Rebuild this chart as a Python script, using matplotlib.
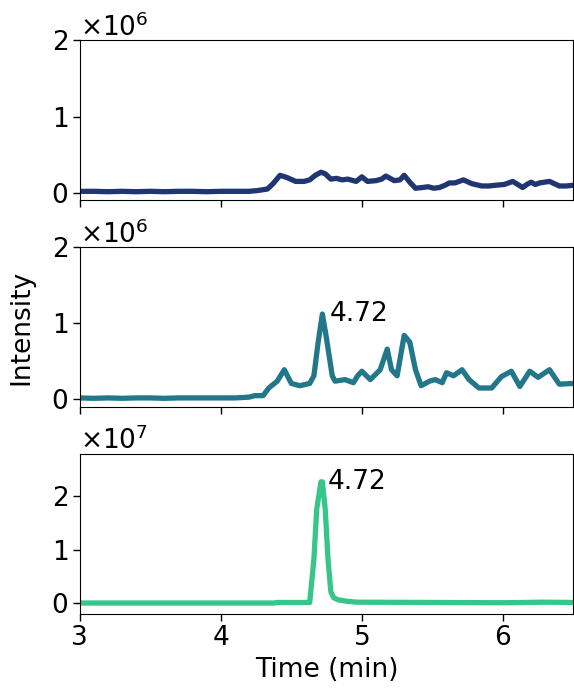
import numpy as np
import matplotlib
matplotlib.use('Agg')
import matplotlib.pyplot as plt

# Extracted ion chromatograms, three channels (time in min, intensity in counts)
t_top = [3.00, 3.10, 3.20, 3.30, 3.40, 3.50, 3.60, 3.70, 3.80, 3.90, 4.00, 4.10,
         4.20, 4.26, 4.33, 4.37, 4.42, 4.47, 4.53, 4.59, 4.63, 4.67, 4.71, 4.74,
         4.78, 4.82, 4.86, 4.90, 4.96, 5.00, 5.04, 5.10, 5.14, 5.17, 5.20, 5.23,
         5.27, 5.30, 5.34, 5.38, 5.43, 5.47, 5.51, 5.55, 5.59, 5.62, 5.66, 5.72,
         5.78, 5.85, 5.90, 5.95, 6.01, 6.07, 6.14, 6.17, 6.20, 6.23, 6.26, 6.33,
         6.40, 6.45, 6.50]
i_top = [0.02, 0.02, 0.015, 0.02, 0.015, 0.02, 0.015, 0.02, 0.02, 0.015, 0.02, 0.02,
         0.02, 0.03, 0.05, 0.12, 0.23, 0.20, 0.15, 0.15, 0.17, 0.23, 0.27, 0.25,
         0.18, 0.19, 0.17, 0.18, 0.15, 0.21, 0.15, 0.16, 0.18, 0.22, 0.19, 0.16,
         0.17, 0.23, 0.14, 0.06, 0.07, 0.08, 0.06, 0.07, 0.10, 0.13, 0.13, 0.17,
         0.12, 0.09, 0.09, 0.10, 0.11, 0.15, 0.07, 0.11, 0.14, 0.11, 0.13, 0.15,
         0.09, 0.09, 0.10]

t_mid = [3.00, 3.10, 3.20, 3.30, 3.40, 3.50, 3.60, 3.70, 3.80, 3.90, 4.00, 4.10,
         4.20, 4.24, 4.30, 4.34, 4.40, 4.45, 4.50, 4.56, 4.63, 4.66, 4.69, 4.72,
         4.75, 4.79, 4.81, 4.88, 4.94, 4.97, 5.00, 5.06, 5.13, 5.18, 5.21, 5.25,
         5.30, 5.34, 5.38, 5.42, 5.48, 5.52, 5.57, 5.60, 5.65, 5.71, 5.76, 5.83,
         5.92, 5.99, 6.06, 6.12, 6.19, 6.25, 6.33, 6.40, 6.50]
i_mid = [0.02, 0.015, 0.02, 0.015, 0.02, 0.02, 0.015, 0.02, 0.02, 0.02, 0.02, 0.02,
         0.03, 0.05, 0.05, 0.15, 0.24, 0.39, 0.21, 0.18, 0.21, 0.31, 0.75, 1.12,
         0.79, 0.31, 0.24, 0.26, 0.22, 0.31, 0.37, 0.26, 0.39, 0.66, 0.39, 0.31,
         0.84, 0.75, 0.39, 0.18, 0.24, 0.26, 0.22, 0.35, 0.31, 0.39, 0.26, 0.15,
         0.15, 0.30, 0.37, 0.17, 0.37, 0.29, 0.39, 0.20, 0.21]

t_bot = [3.00, 3.50, 4.00, 4.38, 4.40, 4.63, 4.66, 4.68, 4.70, 4.71, 4.72, 4.74,
         4.76, 4.78, 4.80, 4.83, 4.90, 4.97, 5.50, 6.00, 6.30, 6.50]
i_bot = [0.0, 0.0, 0.0, 0.0, 0.01, 0.01, 0.82, 1.76, 2.10, 2.27, 2.27, 1.76,
         0.82, 0.21, 0.10, 0.06, 0.03, 0.015, 0.01, 0.005, 0.015, 0.01]

peak_label = 4.72
colors = ['#1f3671', '#23778a', '#36c58b']

plt.rcParams['font.size'] = 19
fig, axes = plt.subplots(3, 1, figsize=(5.74, 6.95), dpi=100, sharex=True)
fig.subplots_adjust(left=0.139, right=0.999, top=0.942, bottom=0.117, hspace=0.29)

traces = [(t_top, np.array(i_top) * 1e6),
          (t_mid, np.array(i_mid) * 1e6),
          (t_bot, np.array(i_bot) * 1e7)]
ylims = [(-0.1e6, 2e6), (-0.1e6, 2e6), (-0.2e7, 2.8e7)]

for ax, (t, y), c, lim in zip(axes, traces, colors, ylims):
    ax.plot(t, y, color=c, lw=3.8, solid_joinstyle='round', solid_capstyle='round')
    ax.set_ylim(*lim)
    ax.set_xlim(3, 6.5)
    ax.ticklabel_format(axis='y', style='sci', scilimits=(0, 0), useMathText=True)
    ax.tick_params(length=5, width=1)

axes[0].set_yticks([0, 1e6, 2e6])
axes[1].set_yticks([0, 1e6, 2e6])
axes[2].set_yticks([0, 1e7, 2e7])
axes[2].set_xticks([3, 4, 5, 6])

# annotate the main peak in the two lower channels
for ax, (t, y) in zip(axes[1:], traces[1:]):
    k = int(np.argmax(y))
    ax.text(t[k] + 0.05, y[k], f'{peak_label:.2f}', va='center', ha='left')

axes[1].set_ylabel('Intensity', labelpad=12)
axes[2].set_xlabel('Time (min)')

plt.savefig('out.png', dpi=100)
